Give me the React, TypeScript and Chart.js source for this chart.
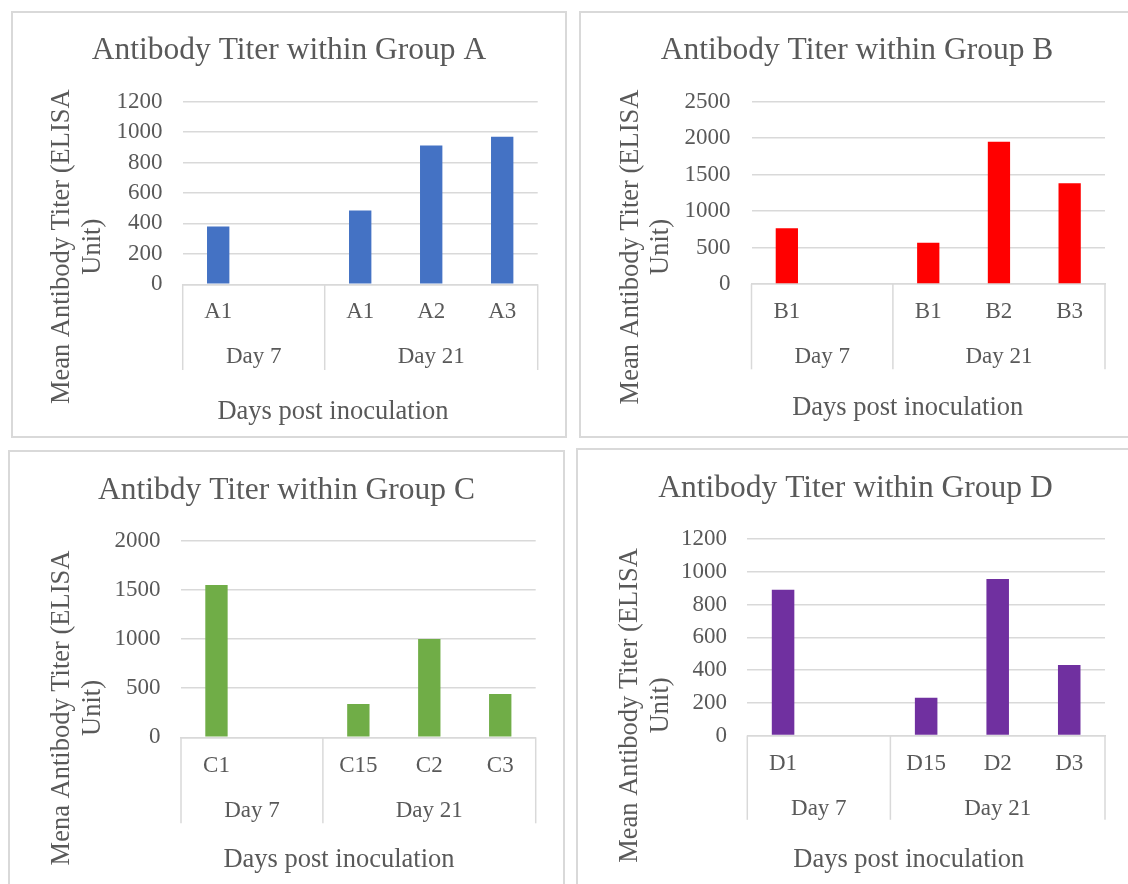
import React, { useEffect, useRef } from 'react';
import { Chart, registerables } from 'chart.js';

Chart.register(...registerables);

// ---------- data ----------
const groupLabels = ['Day 7', 'Day 21'];
const groupSpans = [2, 3];
const xTitle = 'Days post inoculation';

const titleA = 'Antibody Titer within Group A';
const categoriesA = ['A1', '', 'A1', 'A2', 'A3'];
const valuesA = [380, null, 485, 912, 970];
const yTicksA = [0, 200, 400, 600, 800, 1000, 1200];
const yTitleA = ['Mean Antibody Titer (ELISA', 'Unit)'];

const titleB = 'Antibody Titer within Group B';
const categoriesB = ['B1', '', 'B1', 'B2', 'B3'];
const valuesB = [765, null, 565, 1950, 1380];
const yTicksB = [0, 500, 1000, 1500, 2000, 2500];
const yTitleB = ['Mean Antibody Titer (ELISA', 'Unit)'];

const titleC = 'Antibdy Titer within Group C';
const categoriesC = ['C1', '', 'C15', 'C2', 'C3'];
const valuesC = [1550, null, 340, 1000, 440];
const yTicksC = [0, 500, 1000, 1500, 2000];
const yTitleC = ['Mena Antibody Titer (ELISA', 'Unit)'];

const titleD = 'Antibody Titer within Group D';
const categoriesD = ['D1', '', 'D15', 'D2', 'D3'];
const valuesD = [890, null, 230, 955, 430];
const yTicksD = [0, 200, 400, 600, 800, 1000, 1200];
const yTitleD = ['Mean Antibody Titer (ELISA', 'Unit)'];

// ---------- styles ----------
const FONT = '"Liberation Serif", "Times New Roman", serif';
const TEXT = '#595959';
const GRID = '#d9d9d9';
const TITLE_SIZE = 31.5;
const TICK_SIZE = 23;
const AXIS_TITLE_SIZE = 26.5;

type Geom = {
  left: number; top: number; width: number; height: number;
  yAxisW: number; rightW: number; titlePadTop: number; titlePadBottom: number;
  xAxisH: number; yTickPad: number; xTickPad: number; sepLen: number; groupBase: number;
  xTitleX: number; xTitleBase: number; yBase1: number; yBase2: number; yCY: number;
};

const geomA: Geom = { left: 11, top: 11, width: 556, height: 427, yAxisW: 171.7, rightW: 29.3, titlePadTop: 20.5, titlePadBottom: 32.4, xAxisH: 153.7, yTickPad: 20.3, xTickPad: 14.1, sepLen: 85.7, groupBase: 79, xTitleX: 322, xTitleBase: 408, yBase1: 58, yBase2: 89, yCY: 235.7 };
const geomB: Geom = { left: 579, top: 11, width: 556, height: 427, yAxisW: 172.5, rightW: 30, titlePadTop: 20.5, titlePadBottom: 32.4, xAxisH: 154, yTickPad: 21, xTickPad: 13.7, sepLen: 85.3, groupBase: 78.7, xTitleX: 328.7, xTitleBase: 404, yBase1: 58.6, yBase2: 88.9, yCY: 236 };
const geomC: Geom = { left: 8, top: 450, width: 557, height: 440, yAxisW: 173, rightW: 29.3, titlePadTop: 21.5, titlePadBottom: 31.4, xAxisH: 152.7, yTickPad: 20.5, xTickPad: 15.1, sepLen: 86, groupBase: 80, xTitleX: 331, xTitleBase: 416.7, yBase1: 61, yBase2: 92, yCY: 258 };
const geomD: Geom = { left: 576, top: 448, width: 559, height: 440, yAxisW: 171.3, rightW: 30, titlePadTop: 21.8, titlePadBottom: 31.4, xAxisH: 152.5, yTickPad: 20.3, xTickPad: 15, sepLen: 84.3, groupBase: 79.3, xTitleX: 332.8, xTitleBase: 418.7, yBase1: 61, yBase2: 92, yCY: 257.4 };

type Spec = {
  title: string; categories: string[]; values: (number | null)[]; yTicks: number[];
  yTitle: string[]; color: string; geom: Geom;
};

const specs: Spec[] = [
  { title: titleA, categories: categoriesA, values: valuesA, yTicks: yTicksA, yTitle: yTitleA, color: '#4472C4', geom: geomA },
  { title: titleB, categories: categoriesB, values: valuesB, yTicks: yTicksB, yTitle: yTitleB, color: '#FF0000', geom: geomB },
  { title: titleC, categories: categoriesC, values: valuesC, yTicks: yTicksC, yTitle: yTitleC, color: '#70AD47', geom: geomC },
  { title: titleD, categories: categoriesD, values: valuesD, yTicks: yTicksD, yTitle: yTitleD, color: '#7030A0', geom: geomD },
];

function Panel({ spec }: { spec: Spec }) {
  const ref = useRef<HTMLCanvasElement>(null);
  const g = spec.geom;

  useEffect(() => {
    const canvas = ref.current;
    if (!canvas) return;

    const groupPlugin = {
      id: 'groupAxis',
      afterDraw(chart: any) {
        const { ctx, chartArea, scales } = chart;
        const x = scales.x;
        const axisY = chartArea.bottom;
        const half = (x.getPixelForValue(1) - x.getPixelForValue(0)) / 2;
        const bounds: number[] = [x.getPixelForValue(0) - half];
        let idx = 0;
        groupSpans.forEach((s) => {
          idx += s;
          bounds.push(x.getPixelForValue(idx - 1) + half);
        });
        ctx.save();
        ctx.strokeStyle = GRID;
        ctx.lineWidth = 1.5;
        bounds.forEach((b) => {
          ctx.beginPath();
          ctx.moveTo(b, axisY);
          ctx.lineTo(b, axisY + g.sepLen);
          ctx.stroke();
        });
        ctx.fillStyle = TEXT;
        ctx.textAlign = 'center';
        ctx.textBaseline = 'alphabetic';
        ctx.font = `${TICK_SIZE}px ${FONT}`;
        groupLabels.forEach((lab, i) => {
          ctx.fillText(lab, (bounds[i] + bounds[i + 1]) / 2, axisY + g.groupBase);
        });
        ctx.font = `${AXIS_TITLE_SIZE}px ${FONT}`;
        ctx.fillText(xTitle, g.xTitleX, g.xTitleBase);
        ctx.translate(0, g.yCY);
        ctx.rotate(-Math.PI / 2);
        const bases = [g.yBase1, g.yBase2];
        spec.yTitle.forEach((line, i) => {
          ctx.fillText(line, 0, bases[i]);
        });
        ctx.restore();
      },
    };

    const chart = new Chart(canvas, {
      type: 'bar',
      data: {
        labels: spec.categories,
        datasets: [
          {
            data: spec.values as any,
            backgroundColor: spec.color,
            borderWidth: 0,
            barPercentage: 0.315,
            categoryPercentage: 1,
          },
        ],
      },
      plugins: [groupPlugin],
      options: {
        animation: false,
        responsive: false,
        devicePixelRatio: 1,
        events: [],
        layout: { padding: 0 },
        plugins: {
          legend: { display: false },
          tooltip: { enabled: false },
          title: {
            display: true,
            text: spec.title,
            color: TEXT,
            font: { family: FONT, size: TITLE_SIZE, weight: 'normal' },
            padding: { top: g.titlePadTop, bottom: g.titlePadBottom },
          },
        },
        scales: {
          x: {
            type: 'category',
            offset: true,
            grid: { display: false, drawTicks: false, tickLength: 0 },
            border: { display: true, color: GRID, width: 1.5 },
            ticks: {
              color: TEXT,
              font: { family: FONT, size: TICK_SIZE },
              padding: g.xTickPad,
              autoSkip: false,
              maxRotation: 0,
              minRotation: 0,
            },
            afterFit: (s: any) => { s.height = g.xAxisH; },
          },
          y: {
            position: 'left',
            min: spec.yTicks[0],
            max: spec.yTicks[spec.yTicks.length - 1],
            grid: { color: GRID, lineWidth: 1.5, drawTicks: false },
            border: { display: false },
            ticks: {
              color: TEXT,
              font: { family: FONT, size: TICK_SIZE },
              padding: g.yTickPad,
              autoSkip: false,
              callback: (v: any) => String(v),
            },
            afterBuildTicks: (s: any) => { s.ticks = spec.yTicks.map((v) => ({ value: v })); },
            afterFit: (s: any) => { s.width = g.yAxisW; },
          },
          yRight: {
            position: 'right',
            display: true,
            grid: { display: false, drawTicks: false },
            border: { display: false },
            ticks: { display: false },
            afterFit: (s: any) => { s.width = g.rightW; },
          },
        },
      } as any,
    });
    return () => chart.destroy();
  }, [spec]);

  return (
    <div
      style={{
        position: 'absolute',
        left: g.left,
        top: g.top,
        width: g.width,
        height: g.height,
        border: '2px solid #d9d9d9',
        boxSizing: 'border-box',
        background: '#ffffff',
      }}
    >
      <canvas
        ref={ref}
        width={g.width}
        height={g.height}
        style={{ position: 'absolute', left: -2, top: -2, width: g.width, height: g.height }}
      />
    </div>
  );
}

export default function App() {
  return (
    <div
      style={{
        position: 'absolute',
        left: 0,
        top: 0,
        width: 1128,
        height: 884,
        overflow: 'hidden',
        background: '#ffffff',
      }}
    >
      {specs.map((s) => (
        <Panel key={s.title} spec={s} />
      ))}
    </div>
  );
}
